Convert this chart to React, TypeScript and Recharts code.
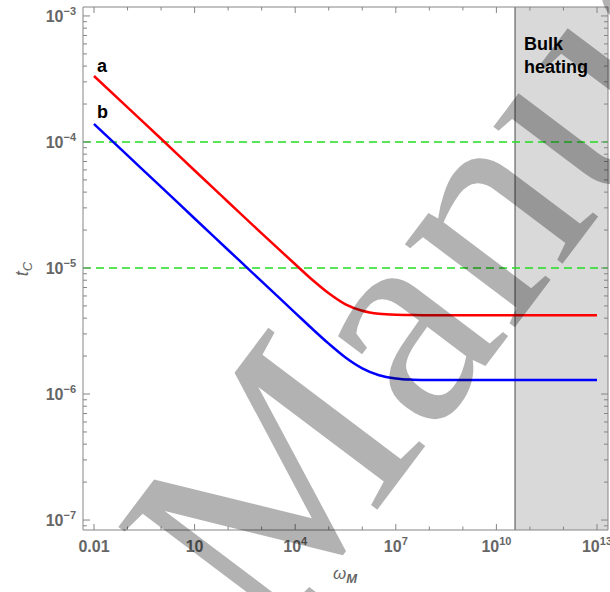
import { LineChart, Line, XAxis, YAxis, ReferenceLine, ReferenceArea } from 'recharts';

// omega_M sample points (decades, half-decades around the knee)
const omega = [0.01, 0.1, 1, 10, 100, 1e3, 1e4, 3.16e4, 1e5, 3.16e5, 1e6, 3.16e6, 1e7, 3.16e7, 1e8, 1e9, 1e10, 1e11, 1e12, 1e13];
const tcA = [3.34e-4, 1.88e-4, 1.06e-4, 5.94e-5, 3.34e-5, 1.88e-5, 1.07e-5, 8.1e-6, 6.3e-6, 5.15e-6, 4.58e-6, 4.33e-6, 4.25e-6, 4.23e-6, 4.22e-6, 4.22e-6, 4.22e-6, 4.22e-6, 4.22e-6, 4.22e-6];
const tcB = [1.39e-4, 7.82e-5, 4.4e-5, 2.47e-5, 1.39e-5, 7.82e-6, 4.41e-6, 3.31e-6, 2.51e-6, 1.95e-6, 1.6e-6, 1.41e-6, 1.33e-6, 1.3e-6, 1.29e-6, 1.29e-6, 1.29e-6, 1.29e-6, 1.29e-6, 1.29e-6];

const xMajor = [0.01, 10, 1e4, 1e7, 1e10, 1e13];
const yMajor = [1e-7, 1e-6, 1e-5, 1e-4, 1e-3];
const guides = [1e-4, 1e-5];
const bulkStart = 3.6e10;

const xDomain = [Math.pow(10, -2.328), Math.pow(10, 13.328)];
const yDomain = [Math.pow(10, -7.079), Math.pow(10, -2.929)];

const data = omega.map((w, i) => ({ w, a: tcA[i], b: tcB[i] }));

const xTicks: number[] = [];
for (let e = -2; e <= 13; e++) xTicks.push(Math.pow(10, e));
const yTicks: number[] = [];
for (let e = -8; e <= -3; e++) {
    for (let m = 1; m <= 9; m++) {
        const v = m * Math.pow(10, e);
        if (v >= yDomain[0] && v <= yDomain[1]) yTicks.push(v);
    }
}

const AXIS = '#858585';
const LABEL = '#666666';
const FONT = '"Liberation Sans", Arial, sans-serif';

const isMajorX = (v: number) => xMajor.some((m) => Math.abs(Math.log10(m) - Math.log10(v)) < 1e-6);
const isMajorY = (v: number) => yMajor.some((m) => Math.abs(Math.log10(m) - Math.log10(v)) < 1e-6);

const Pow = ({ e }: { e: number }) => (
    <>
        <tspan>10</tspan>
        <tspan dy={-7} fontSize={11}>{e < 0 ? '\u2212' + -e : e}</tspan>
    </>
);

const BottomTick = (props: any) => {
    const { x, y, payload } = props;
    const v = payload.value;
    const major = isMajorX(v);
    const e = Math.round(Math.log10(v));
    return (
        <g>
            <line x1={x} x2={x} y1={y} y2={y - (major ? 6 : 3.5)} stroke={AXIS} />
            {major && (
                <text x={x} y={y + 22} textAnchor="middle" fill={LABEL} fontSize={16} fontWeight="bold" fontFamily={FONT}>
                    {e === -2 ? '0.01' : e === 1 ? '10' : <Pow e={e} />}
                </text>
            )}
        </g>
    );
};

const TopTick = (props: any) => {
    const { x, y, payload } = props;
    const major = isMajorX(payload.value);
    return <line x1={x} x2={x} y1={y} y2={y + (major ? 6 : 3.5)} stroke={AXIS} />;
};

const LeftTick = (props: any) => {
    const { x, y, payload } = props;
    const v = payload.value;
    const major = isMajorY(v);
    const e = Math.round(Math.log10(v));
    return (
        <g>
            <line x1={x} x2={x + (major ? 7 : 4)} y1={y} y2={y} stroke={AXIS} />
            {major && (
                <text x={x - 7} y={y + 6} textAnchor="end" fill={LABEL} fontSize={16} fontWeight="bold" fontFamily={FONT}>
                    <Pow e={e} />
                </text>
            )}
        </g>
    );
};

const RightTick = (props: any) => {
    const { x, y, payload } = props;
    const major = isMajorY(payload.value);
    return <line x1={x} x2={x - (major ? 7 : 4)} y1={y} y2={y} stroke={AXIS} />;
};

export default function App() {
    return (
        <div style={{ position: 'absolute', left: 0, top: 0, width: 610, height: 592, background: '#fff', overflow: 'hidden' }}>
            <LineChart width={610} height={592} data={data} margin={{ top: 0, right: 0, bottom: 0, left: 0 }}>
                <XAxis
                    dataKey="w"
                    type="number"
                    scale="log"
                    domain={xDomain}
                    allowDataOverflow
                    ticks={xTicks}
                    interval={0}
                    height={62}
                    tickSize={0}
                    tickMargin={0}
                    tickLine={false}
                    axisLine={{ stroke: AXIS }}
                    tick={<BottomTick />}
                />
                <XAxis
                    xAxisId="top"
                    orientation="top"
                    dataKey="w"
                    type="number"
                    scale="log"
                    domain={xDomain}
                    allowDataOverflow
                    ticks={xTicks}
                    interval={0}
                    height={7}
                    tickSize={0}
                    tickMargin={0}
                    tickLine={false}
                    axisLine={{ stroke: AXIS }}
                    tick={<TopTick />}
                />
                <YAxis
                    type="number"
                    scale="log"
                    domain={yDomain}
                    allowDataOverflow
                    ticks={yTicks}
                    interval={0}
                    width={83}
                    tickSize={0}
                    tickMargin={0}
                    tickLine={false}
                    axisLine={{ stroke: AXIS }}
                    tick={<LeftTick />}
                />
                <YAxis
                    yAxisId="right"
                    orientation="right"
                    type="number"
                    scale="log"
                    domain={yDomain}
                    allowDataOverflow
                    ticks={yTicks}
                    interval={0}
                    width={2}
                    tickSize={0}
                    tickMargin={0}
                    tickLine={false}
                    axisLine={{ stroke: AXIS }}
                    tick={<RightTick />}
                />
                <ReferenceArea x1={bulkStart} x2={xDomain[1]} fill="#d9d9d9" fillOpacity={1} stroke="none" ifOverflow="hidden" />
                <ReferenceLine x={bulkStart} stroke="#6e6e6e" strokeWidth={1.3} />
                {guides.map((g) => (
                    <ReferenceLine key={g} y={g} stroke="#22dd22" strokeWidth={1.6} strokeDasharray="8 5" />
                ))}
                <Line dataKey="a" type="monotone" stroke="#ff0000" strokeWidth={2.5} dot={false} isAnimationActive={false} />
                <Line dataKey="b" type="monotone" stroke="#0000ff" strokeWidth={2.5} dot={false} isAnimationActive={false} />
            </LineChart>
            <svg width={610} height={592} style={{ position: 'absolute', left: 0, top: 0, pointerEvents: 'none' }}>
                <g fontFamily={FONT} fontWeight="bold" fontSize={18} fill="#000">
                    <text x={97} y={72}>a</text>
                    <text x={97} y={118}>b</text>
                    <text x={524} y={50}>Bulk</text>
                    <text x={524} y={73}>heating</text>
                </g>
                <text x={0} y={0} transform="translate(28 269) rotate(-90)" textAnchor="middle" fill={LABEL} fontFamily={FONT} fontSize={18} fontStyle="italic">
                    <tspan>t</tspan>
                    <tspan fontSize={13} dy={4}>C</tspan>
                </text>
                <text x={345} y={579} textAnchor="middle" fill={LABEL} fontFamily={FONT} fontSize={17} fontStyle="italic">
                    <tspan>ω</tspan>
                    <tspan fontSize={13} dy={4} fontWeight="bold">M</tspan>
                </text>
                <text
                    x={270}
                    y={652}
                    transform="rotate(-53 270 652)"
                    fontFamily='"Liberation Serif", "Times New Roman", serif'
                    fontSize={300}
                    fill="#000"
                    fillOpacity={0.3}
                >
                    Manuscript
                </text>
            </svg>
        </div>
    );
}
